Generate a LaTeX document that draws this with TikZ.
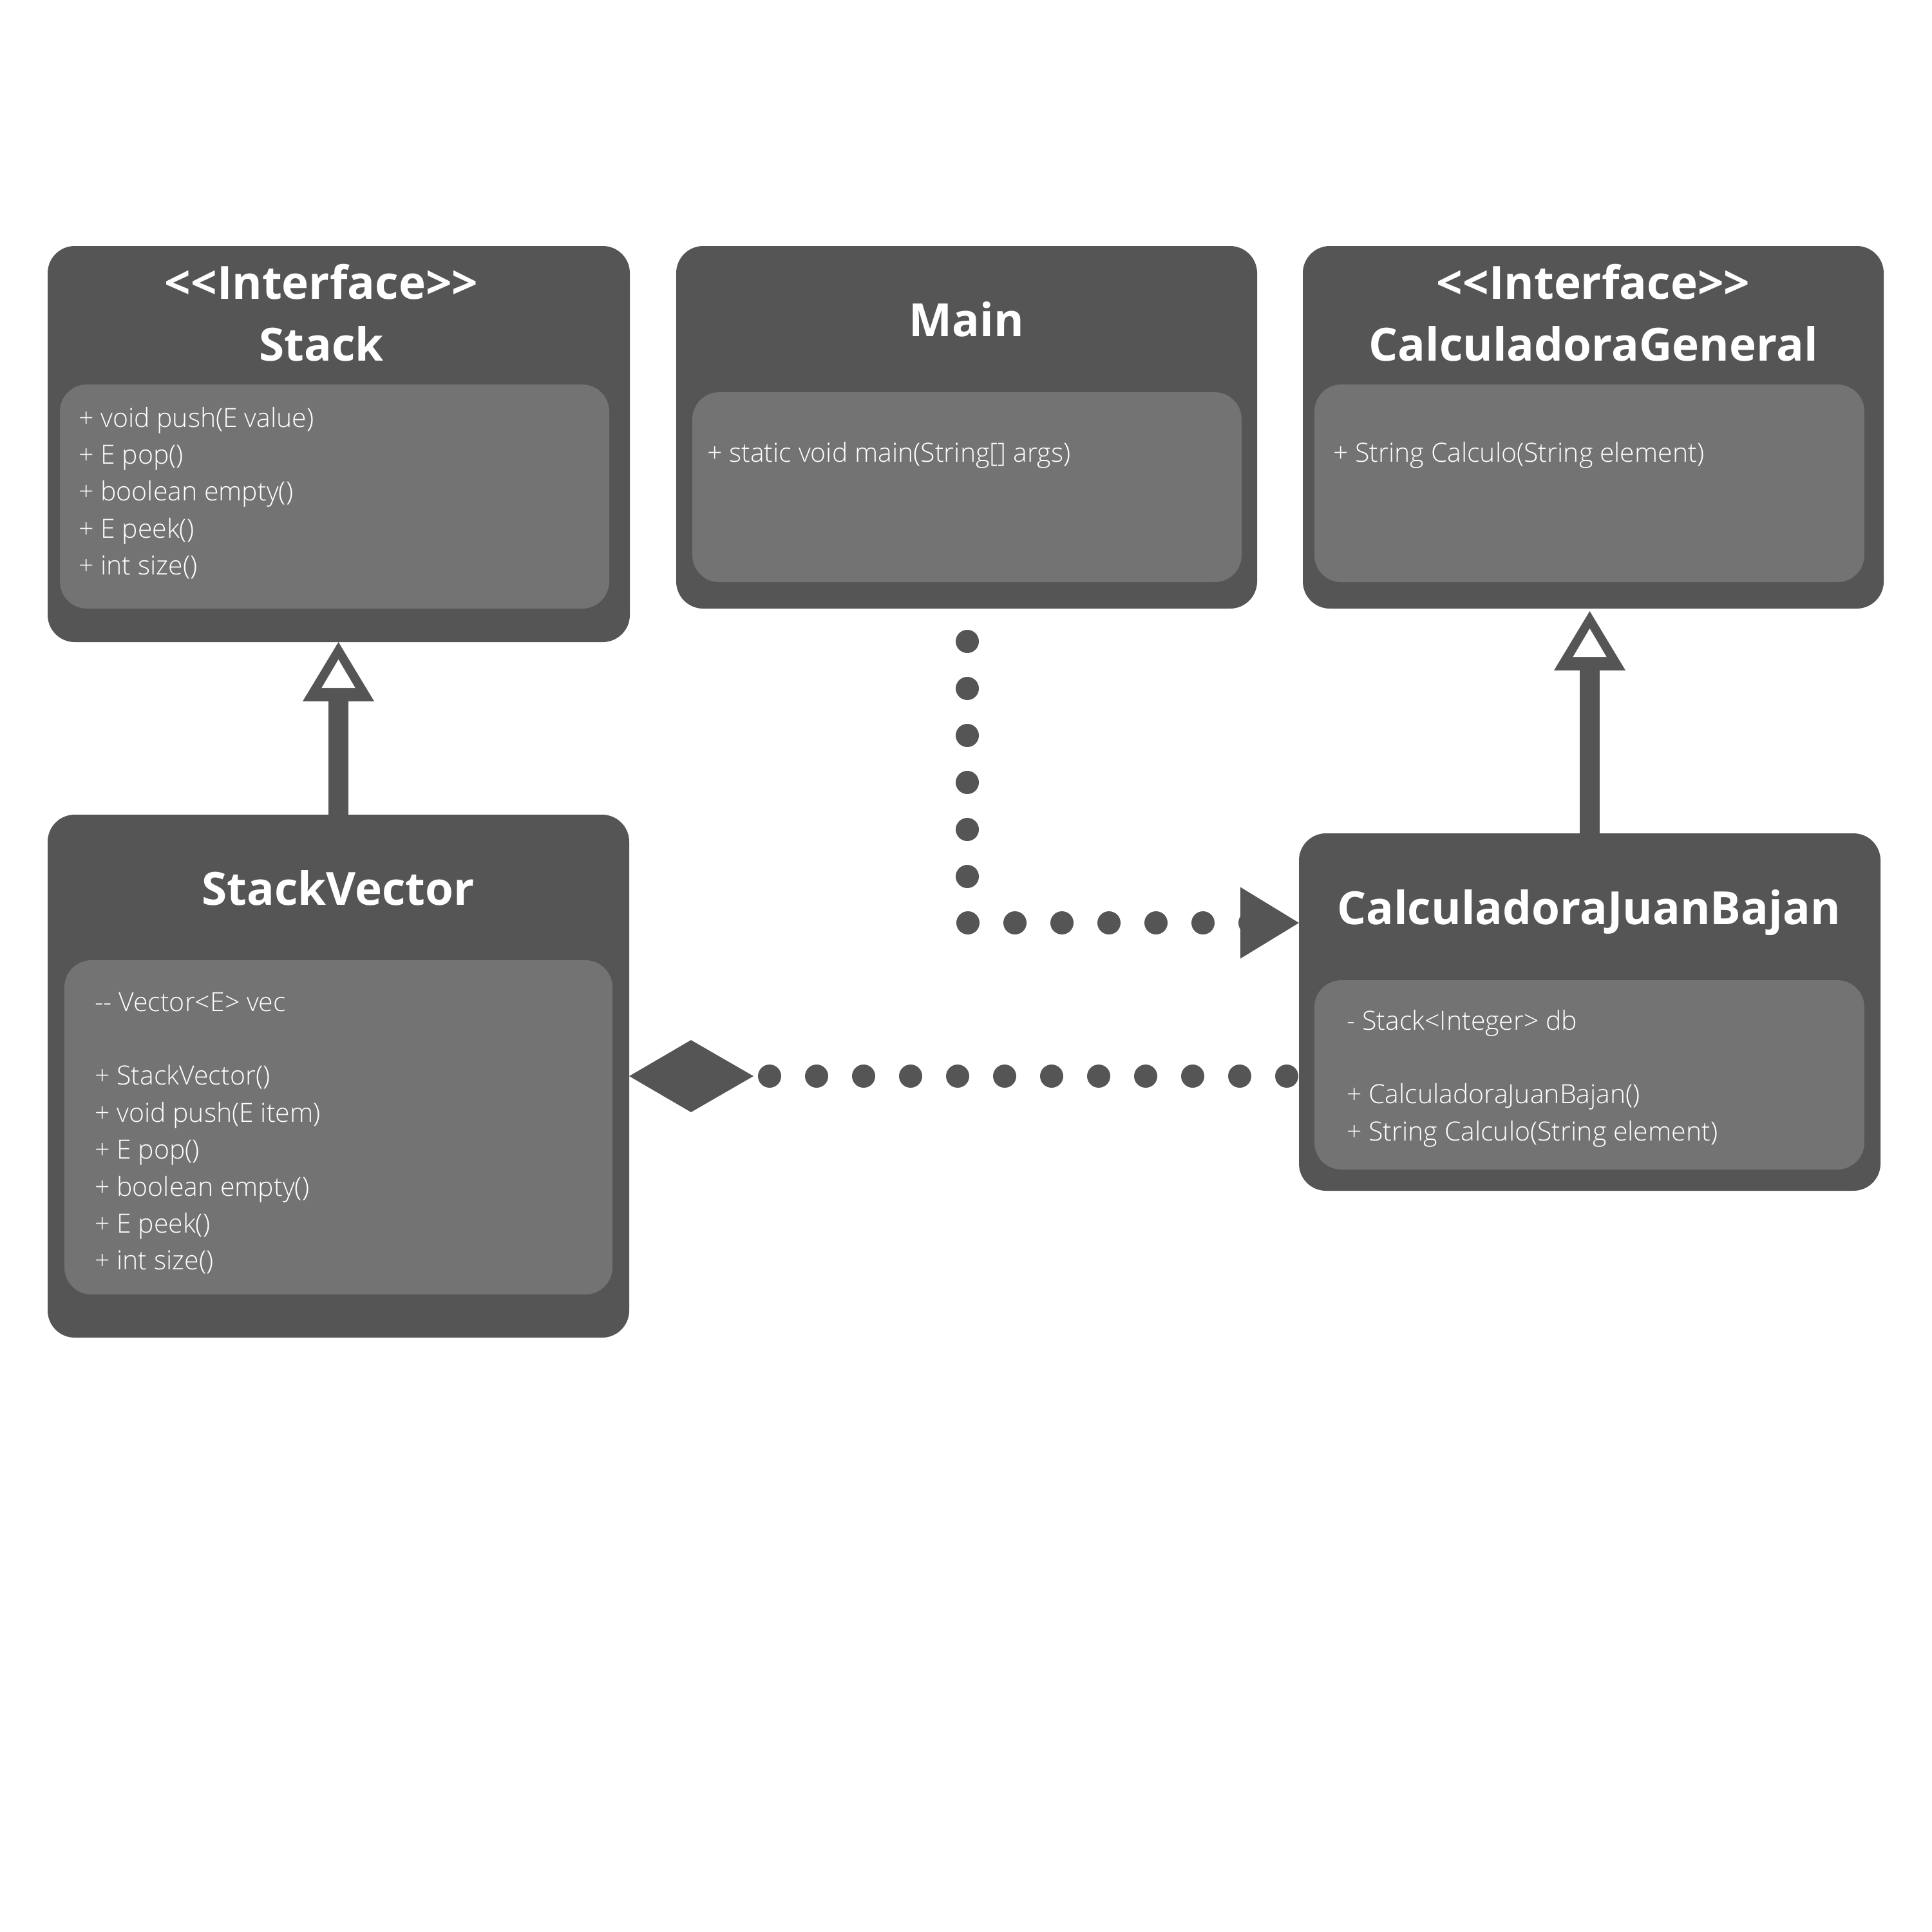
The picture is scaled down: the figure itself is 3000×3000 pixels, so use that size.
\documentclass[tikz,border=0pt]{standalone}
\usepackage{fontspec}
\setmainfont{Open Sans}
\newfontfamily\lightfont{Open Sans Light}
\usetikzlibrary{calc}

\definecolor{boxgray}{RGB}{85,85,85}
\definecolor{panelgray}{RGB}{115,115,115}
\definecolor{linkgray}{RGB}{85,85,85}

\newcommand{\titlefont}{\fontsize{71}{96}\selectfont\bfseries}
\newcommand{\memberfont}{\lightfont\fontsize{41}{57.4}\selectfont}
\newcommand{\stereo}{<\kern0pt<Interface>\kern0pt>}

\tikzset{every picture/.style={line width=0.75pt}}
\tikzset{
	classbox/.style={fill=boxgray, rounded corners=42pt, inner sep=0pt, outer sep=0pt},
	panelbox/.style={fill=panelgray, rounded corners=42pt, inner sep=0pt, outer sep=0pt},
	classname/.style={text=white, font=\titlefont, align=center, anchor=base, inner sep=0pt},
	memberlist/.style={text=white, font=\memberfont, align=left, anchor=base west, inner sep=0pt},
	realize/.style={draw=linkgray, line width=31pt},
	dotlink/.style={draw=linkgray, line width=36pt, line cap=round, dash pattern=on 0pt off 73pt},
	openhead/.pic={
		\fill[linkgray] (0,0) -- (-55.5,-92) -- (55.5,-92) -- cycle;
		\fill[white] (0,-27) -- (-26,-71) -- (26,-71) -- cycle;
	},
}

\begin{document}
\begin{tikzpicture}[x=1pt,y=1pt,yscale=-1]
	\fill[white] (0,0) rectangle (3000,3000);
	\useasboundingbox (0,0) rectangle (3000,3000);

	% Stack (base anchor = last line)
	\node[classbox, minimum width=904pt, minimum height=615pt] (stack) at (526,689.5) {};
	\node[panelbox, minimum width=853pt, minimum height=348pt] (stackpanel) at (519.5,771) {};
	\node[classname] (stacktitle) at (499,560) {\stereo\\Stack};
	\node[memberlist] (stackops) at (122,892.6) {+ void push(E value)\\+ E pop()\\+ boolean empty()\\+ E peek()\\+ int size()};

	% Main
	\node[classbox, minimum width=902pt, minimum height=563pt] (main) at (1501,663.5) {};
	\node[panelbox, minimum width=853pt, minimum height=295pt] (mainpanel) at (1501.5,756.5) {};
	\node[classname] (maintitle) at (1501,522) {Main};
	\node[memberlist] (mainops) at (1098,717) {+ static void main(String[] args)};

	% CalculadoraGeneral
	\node[classbox, minimum width=902pt, minimum height=563pt] (cg) at (2474,663.5) {};
	\node[panelbox, minimum width=854pt, minimum height=307pt] (cgpanel) at (2468,750.5) {};
	\node[classname] (cgtitle) at (2474,560) {\stereo\\CalculadoraGeneral};
	\node[memberlist] (cgops) at (2070,717) {+ String Calculo(String element)};

	% StackVector
	\node[classbox, minimum width=903pt, minimum height=812pt] (sv) at (525.5,1671) {};
	\node[panelbox, minimum width=851pt, minimum height=519pt] (svpanel) at (525.5,1750.5) {};
	\node[classname] (svtitle) at (525,1405) {StackVector};
	\node[memberlist] (svops) at (147,1971.8) {-\kern0pt- Vector<E> vec\\[57.4pt]+ StackVector()\\+ void push(E item)\\+ E pop()\\+ boolean empty()\\+ E peek()\\+ int size()};

	% CalculadoraJuanBajan
	\node[classbox, minimum width=903pt, minimum height=555pt] (cjb) at (2468.5,1571.5) {};
	\node[panelbox, minimum width=854pt, minimum height=294pt] (cjbpanel) at (2468,1669) {};
	\node[classname] (cjbtitle) at (2467,1435) {CalculadoraJuanBajan};
	\node[memberlist] (cjbops) at (2091,1771.2) {- Stack<Integer> db\\[57.4pt]+ CalculadoraJuanBajan()\\+ String Calculo(String element)};

	% StackVector implements Stack
	\draw[realize, shorten >=92pt] (sv.north) -- (sv.north |- stack.south);
	\pic at (sv.north |- stack.south) {openhead};

	% CalculadoraJuanBajan implements CalculadoraGeneral
	\draw[realize, shorten >=96pt] (cjb.north) -- (cjb.north |- cg.south);
	\pic at ($(cjb.north |- cg.south)+(0,4)$) {openhead};

	% Main uses CalculadoraJuanBajan
	\coordinate (usetip) at ($(cjb.north west)+(0,139)$);
	\draw[dotlink] ($(main.south)+(1,51)$) |- ($(usetip)+(-72,0)$);
	\fill[linkgray] (usetip) -- ++(-91,-55.5) -- ++(0,111) -- cycle;

	% StackVector composed into CalculadoraJuanBajan
	\draw[dotlink] ($(sv.east -| cjb.west)+(-19,0)$) -- ($(sv.east)+(216,0)$);
	\fill[linkgray] (sv.east) -- ++(96,-56) -- ++(97,56) -- ++(-97,56) -- cycle;

\end{tikzpicture}
\end{document}
